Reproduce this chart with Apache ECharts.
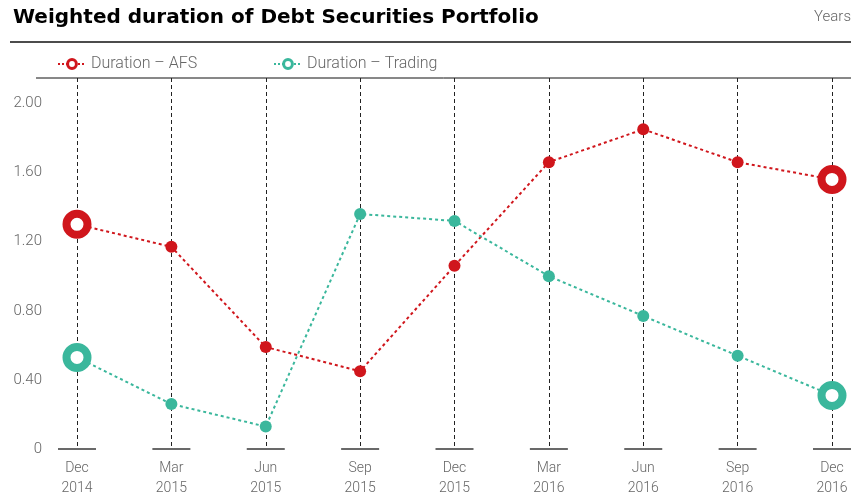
<!DOCTYPE html>
<html>
<head>
<meta charset="utf-8">
<script src="https://cdn.jsdelivr.net/npm/echarts@6/dist/echarts.min.js"></script>
<style>html,body{margin:0;padding:0;background:#fff}#c{width:851px;height:498px}</style>
</head>
<body>
<div id="c"></div>
<script>
const categories = ['Dec\n2014','Mar\n2015','Jun\n2015','Sep\n2015','Dec\n2015','Mar\n2016','Jun\n2016','Sep\n2016','Dec\n2016'];
const afs = [1.30, 1.17, 0.59, 0.45, 1.06, 1.66, 1.85, 1.66, 1.56];
const trading = [0.53, 0.26, 0.13, 1.36, 1.32, 1.00, 0.77, 0.54, 0.31];
const yTicks = [0, 0.4, 0.8, 1.2, 1.6, 2.0];

const RED = '#d0161c';
const TEAL = '#3ab79c';
const FONT = 'Roboto, "Liberation Sans", sans-serif';

function styled(values, color) {
  const last = values.length - 1;
  return values.map((v, i) => (i === 0 || i === last) ? {
    value: v, symbolSize: 21,
    itemStyle: { color: '#fff', borderColor: color, borderWidth: 8 }
  } : { value: v, symbolSize: 12, itemStyle: { color: color, borderWidth: 0 } });
}

function legendFor(name, color, left) {
  return {
    left: left, top: 56, padding: 0, itemWidth: 28, itemHeight: 11, itemGap: 0,
    textStyle: { fontFamily: FONT, fontWeight: 300, fontSize: 16, color: '#666' },
    data: [{ name: name, itemStyle: { color: '#fff', borderColor: color, borderWidth: 3 },
             lineStyle: { color: color, width: 2, type: [2, 2] } }]
  };
}

const chart = echarts.init(document.getElementById('c'));
chart.setOption({
  animation: false,
  title: {
    text: 'Weighted duration of Debt Securities Portfolio',
    left: 8, top: 3,
    textStyle: { fontFamily: '"DejaVu Sans", sans-serif', fontWeight: 'bold', fontSize: 20, color: '#000' }
  },
  graphic: [
    { type: 'text', right: 0, top: 10, style: { text: 'Years', fontFamily: FONT, fontWeight: 300, fontSize: 15, fill: '#666' } },
    { type: 'line', shape: { x1: 10, y1: 42, x2: 851, y2: 42 }, style: { stroke: '#111', lineWidth: 1.5 } },
    { type: 'line', shape: { x1: 36, y1: 78, x2: 851, y2: 78 }, style: { stroke: '#111', lineWidth: 1 } }
  ],
  legend: [
    legendFor('Duration – AFS', RED, 57),
    legendFor('Duration – Trading', TEAL, 273)
  ],
  grid: { left: 77, right: 19, top: 78, bottom: 48 },
  xAxis: {
    type: 'category', data: categories, boundaryGap: false,
    axisLine: { show: false }, axisTick: { show: false },
    splitLine: { show: true, lineStyle: { color: '#222', width: 1, type: [4, 3] } },
    axisLabel: { margin: 9, fontFamily: FONT, fontWeight: 300, fontSize: 14, color: '#666', lineHeight: 20 }
  },
  yAxis: {
    type: 'value', min: 0, max: 2.147, interval: 0.4,
    axisLine: { show: false }, axisTick: { show: false }, splitLine: { show: false },
    axisLabel: {
      showMaxLabel: false, margin: 35, fontFamily: FONT, fontWeight: 300, fontSize: 15, color: '#666',
      formatter: v => v === 0 ? '0' : (yTicks.some(t => Math.abs(t - v) < 1e-6) ? v.toFixed(2) : '')
    }
  },
  series: [
    {
      type: 'scatter', silent: true, symbol: 'rect', symbolSize: [38, 2], z: 1,
      itemStyle: { color: '#444' }, data: categories.map(() => 0)
    },
    {
      name: 'Duration – AFS', type: 'line', symbol: 'circle', z: 3,
      lineStyle: { color: RED, width: 2, type: [3, 3] },
      itemStyle: { color: RED },
      data: styled(afs, RED)
    },
    {
      name: 'Duration – Trading', type: 'line', symbol: 'circle', z: 3,
      lineStyle: { color: TEAL, width: 2, type: [3, 3] },
      itemStyle: { color: TEAL },
      data: styled(trading, TEAL)
    }
  ]
});
</script>
</body>
</html>
